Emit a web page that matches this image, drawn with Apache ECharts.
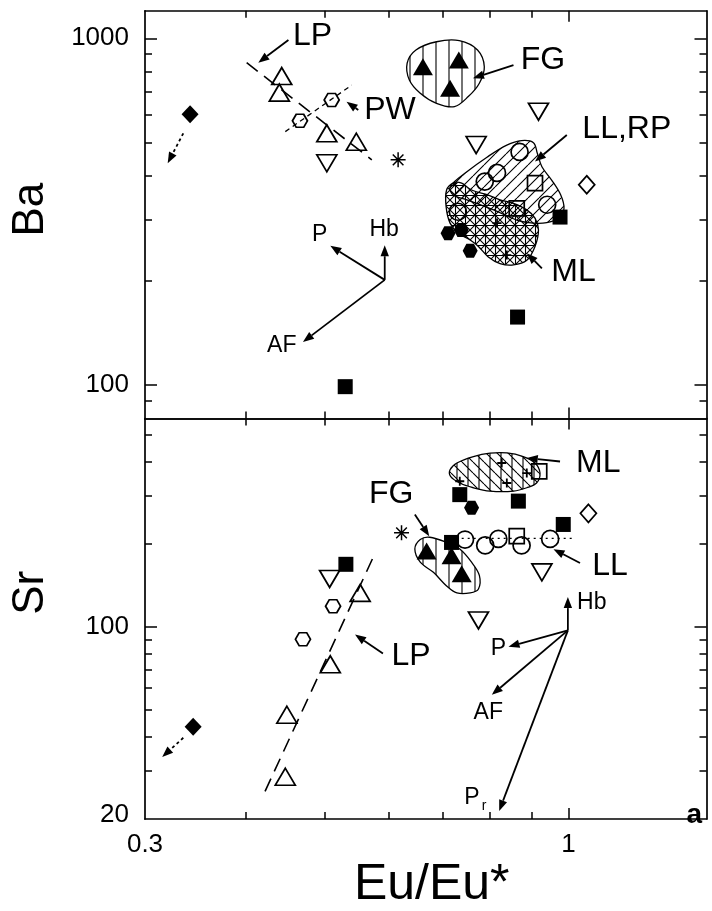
<!DOCTYPE html>
<html><head><meta charset="utf-8">
<script src="https://cdn.jsdelivr.net/npm/echarts@6/dist/echarts.min.js"></script>
<style>html,body{margin:0;padding:0;background:#fff}#c{width:712px;height:911px}</style>
</head><body><div id="c"></div>
<script>
// ---------- axis ticks / labels ----------
const xTickVals = [0.4,0.5,0.6,0.7,0.8,0.9];
const xMajorTickVals = [1];
const xLabelVals = [0.3,1];
const baTickVals = [90,200,300,400,500,600,700,800,900];
const baMajorTickVals = [100,1000];
const baLabelVals = [100,1000];
const srTickVals = [30,40,50,60,70,80,90,200,300,400,500];
const srMajorTickVals = [100];
const srLabelVals = [20,100];

// ---------- top panel (Ba vs Eu/Eu*) ----------
const openUpTriBa   = [[0.4425,778],[0.4395,697],[0.503,532],[0.547,503]];
const openDownTriBa = [[0.503,436],[0.918,614],[0.769,492]];
const filledTriBa   = [[0.661,828],[0.732,866],[0.714,718]];
const openHexBa     = [[0.510,664],[0.466,578]];
const openCircBa    = [[0.870,470],[0.816,409],[0.788,386],[0.941,331],[0.730,316]];
const openSqBa      = [[0.909,382],[0.863,323]];
const openDiamBa    = [[1.053,378]];
const filledDiamBa  = [[0.341,604]];
const filledSqBa    = [[0.976,305],[0.865,157],[0.530,98.9]];
const filledHexBa   = [[0.710,274],[0.756,244],[0.737,280]];
const asteriskBa    = [[0.616,446]];
const plusBa        = [[0.839,237],[0.816,293]];

const fgRegionBa   = [[0.632,847],[0.648,925],[0.687,977],[0.733,984],[0.772,925],[0.787,828],[0.776,742],[0.752,679],[0.723,635],[0.687,649],[0.656,694],[0.636,758]];
const llrpRegionBa = [[0.714,373],[0.749,412],[0.793,454],[0.839,492],[0.875,507],[0.905,500],[0.915,466],[0.927,426],[0.953,390],[0.978,353],[0.987,323],[0.974,303],[0.940,294],[0.905,293],[0.863,299],[0.808,320],[0.749,342],[0.721,353]];
const mlRegionBa   = [[0.707,365],[0.721,383],[0.738,382],[0.759,365],[0.796,353],[0.823,342],[0.855,334],[0.888,320],[0.909,303],[0.918,280],[0.909,251],[0.888,229],[0.855,222],[0.823,224],[0.796,234],[0.774,251],[0.756,262],[0.731,274],[0.714,293],[0.706,327]];

const lpTrendBa = [[0.4005,850],[0.5716,446]];
const pwTrendBa = [[0.447,538],[0.540,733]];

// arrows: [x1,y1,x2,y2]
const arrowsBa = [
  [0.451,989,0.414,850],   // LP
  [0.550,621,0.532,656],   // PW
  [0.855,837,0.762,767],   // FG
  [0.995,526,0.909,441],   // LL,RP
  [0.927,217,0.888,240],   // ML
  [0.593,201,0.593,253],   // Hb vector
  [0.593,201,0.508,252],   // P vector
  [0.593,201,0.470,133]    // AF vector
];
const dottedArrowsBa = [[0.3345,532,0.320,436]];

const bigLabelsBa   = [[0.483,1011,'LP'],[0.602,621,'PW'],[0.930,866,'FG'],[1.18,545,'LL,RP'],[1.014,212,'ML']];
const smallLabelsBa = [[0.493,271,'P'],[0.592,280,'Hb'],[0.4425,130,'AF']];

// ---------- bottom panel (Sr vs Eu/Eu*) ----------
const openUpTriSr   = [[0.553,133],[0.508,73.1],[0.449,47.9],[0.447,28.5]];
const openDownTriSr = [[0.507,149.5],[0.927,158],[0.774,105.6]];
const filledTriSr   = [[0.668,189],[0.717,181.5],[0.738,156]];
const openHexSr     = [[0.512,119],[0.470,90.2]];
const openCircSr    = [[0.745,208],[0.789,198],[0.819,209],[0.875,198],[0.949,209]];
const openSqSr      = [[0.863,214],[0.920,368]];
const openDiamSr    = [[1.058,259]];
const filledDiamSr  = [[0.344,43.3]];
const filledSqSr    = [[0.531,169],[0.985,236],[0.867,287],[0.734,303],[0.717,203]];
const filledHexSr   = [[0.759,271.5]];
const asteriskSr    = [[0.622,220]];
const plusSr        = [[0.827,395],[0.888,363],[0.734,339],[0.839,334]];

const fgRegionSr = [[0.646,192],[0.656,208],[0.674,212],[0.707,203],[0.734,192],[0.759,172],[0.776,154],[0.774,137.5],[0.756,133],[0.728,133],[0.707,141],[0.681,158],[0.656,172]];
const mlRegionSr = [[0.714,373],[0.728,395],[0.763,417],[0.800,429],[0.839,430],[0.879,417],[0.909,395],[0.922,363],[0.913,334],[0.888,321],[0.855,312],[0.800,312],[0.763,321],[0.734,334],[0.715,353]];

const lpTrendSr = [[0.422,25.2],[0.573,177.6]];
const llTrendSr = [[0.738,210],[1.009,210]];

const arrowsSr = [
  [0.646,256.8,0.673,214],  // FG
  [1.033,170.8,0.958,191.9],// LL
  [0.976,400,0.888,412],    // ML
  [0.590,80.1,0.545,93.8],  // LP
  [0.998,97.2,0.998,128.4], // Hb vector
  [0.998,97.2,0.843,84.7],  // P vector
  [0.998,97.2,0.804,56.6],  // AF vector
  [0.998,97.2,0.821,21.4]   // Pr vector
];
const dottedArrowsSr = [[0.3345,39.5,0.315,33.6]];

const bigLabelsSr   = [[0.604,303,'FG'],[1.125,166,'LL'],[1.088,393,'ML'],[0.639,78.4,'LP']];
const smallLabelsSr = [[1.068,123,'Hb'],[0.819,83.5,'P'],[0.796,48.6,'AF'],[0.760,24.0,'P_r']];
const panelTagSr    = [[1.43,20.7,'a']];

// ---------- styling ----------
const FONT = '"Liberation Sans", Arial, Helvetica, sans-serif';
const HEX = 'path://M5,0 L15,0 L20,8.66 L15,17.32 L5,17.32 L0,8.66 Z';
const AST = 'path://M9,0 L11,0 L11,20 L9,20 Z M0,9 L20,9 L20,11 L0,11 Z M2.2,3.6 L3.6,2.2 L17.8,16.4 L16.4,17.8 Z M16.4,2.2 L17.8,3.6 L3.6,17.8 L2.2,16.4 Z';
const PLUS = 'path://M8,0 L12,0 L12,8 L20,8 L20,12 L12,12 L12,20 L8,20 L8,12 L0,12 L0,8 L8,8 Z';

function makePattern(size, draw) {
  const c = document.createElement('canvas');
  c.width = size; c.height = size;
  const g = c.getContext('2d');
  g.strokeStyle = '#000'; g.lineWidth = 1.1;
  g.beginPath(); draw(g, size); g.stroke();
  return { type: 'pattern', image: c, repeat: 'repeat' };
}
const vert = (g, s) => { g.moveTo(s/2+0.5, 0); g.lineTo(s/2+0.5, s); };
const horiz = (g, s) => { g.moveTo(0, s/2+0.5); g.lineTo(s, s/2+0.5); };
const slash = (g, s) => { for (const k of [-s,0,s]) { g.moveTo(k, s); g.lineTo(k+s, 0); } };
const bslash = (g, s) => { for (const k of [-s,0,s]) { g.moveTo(k, 0); g.lineTo(k+s, s); } };
const patFG = makePattern(13, vert);
const patLLRP = makePattern(11, slash);
const patMLtop = makePattern(10, (g,s)=>{ vert(g,s); horiz(g,s); slash(g,s); bslash(g,s); });
const patMLbot = makePattern(11, (g,s)=>{ vert(g,s); bslash(g,s); });

function scatter(data, xi, yi, symbol, size, filled, rotate) {
  return {
    type: 'scatter', xAxisIndex: xi, yAxisIndex: yi, data, symbol, symbolSize: size,
    symbolRotate: rotate || 0, silent: true, z: 5,
    itemStyle: filled ? { color: '#000', borderWidth: 0, opacity: 1 }
                      : { color: 'rgba(255,255,255,0)', borderColor: '#000', borderWidth: 1.7, opacity: 1 }
  };
}
function region(points, xi, yi, pattern) {
  return {
    type: 'custom', coordinateSystem: 'cartesian2d', xAxisIndex: xi, yAxisIndex: yi,
    silent: true, z: 1, data: points,
    renderItem: (params, api) => {
      if (params.dataIndex !== 0) return null;
      const pts = points.map(p => api.coord(p));
      return { type: 'polygon', shape: { points: pts, smooth: 0.35 },
               style: { fill: pattern, stroke: '#000', lineWidth: 1.3 } };
    }
  };
}
function trend(data, xi, yi, dash, width) {
  return { type: 'line', xAxisIndex: xi, yAxisIndex: yi, data, symbol: 'none', silent: true, z: 2,
           lineStyle: { color: '#000', width: width || 1.6, type: dash } };
}
function arrows(data, xi, yi, dashed) {
  return {
    type: 'custom', coordinateSystem: 'cartesian2d', xAxisIndex: xi, yAxisIndex: yi,
    silent: true, z: 3, data, encode: { x: [0,2], y: [1,3] },
    renderItem: (params, api) => {
      const p1 = api.coord([api.value(0), api.value(1)]);
      const p2 = api.coord([api.value(2), api.value(3)]);
      const a = Math.atan2(p2[1]-p1[1], p2[0]-p1[0]);
      const L = 11, W = 4.2;
      const bx = p2[0] - L*Math.cos(a), by = p2[1] - L*Math.sin(a);
      return { type: 'group', children: [
        { type: 'line', shape: { x1: p1[0], y1: p1[1], x2: bx, y2: by },
          style: { stroke: '#000', lineWidth: 1.8, lineDash: dashed ? [3,3] : null } },
        { type: 'polygon', shape: { points: [p2, [bx + W*Math.sin(a), by - W*Math.cos(a)], [bx - W*Math.sin(a), by + W*Math.cos(a)]] },
          style: { fill: '#000' } }
      ]};
    }
  };
}
function texts(arr, xi, yi, fontSize, bold) {
  return {
    type: 'custom', coordinateSystem: 'cartesian2d', xAxisIndex: xi, yAxisIndex: yi,
    silent: true, z: 6, data: arr.map(d => [d[0], d[1]]),
    renderItem: (params, api) => {
      const p = api.coord([api.value(0), api.value(1)]);
      const parts = arr[params.dataIndex][2].split('_');
      const st = { fontSize, fontFamily: FONT, fontWeight: bold ? 'bold' : 'normal', fill: '#000', align: 'center', verticalAlign: 'middle' };
      const children = [{ type: 'text', x: p[0], y: p[1], style: Object.assign({ text: parts[0] }, st) }];
      if (parts[1]) children.push({ type: 'text', x: p[0] + fontSize*0.42, y: p[1] + fontSize*0.4,
        style: Object.assign({}, st, { text: parts[1], fontSize: Math.round(fontSize*0.6), align: 'left' }) });
      return { type: 'group', children };
    }
  };
}

const axisLineStyle = { color: '#000', width: 1.7 };
const tickStyle = { color: '#000', width: 1.5 };
function xAxis(grid, pos, withLabels, name) {
  return {
    type: 'log', logBase: 10, gridIndex: grid, position: pos, min: 0.3, max: 1.48,
    axisLine: { show: true, onZero: false, lineStyle: axisLineStyle },
    axisTick: { show: true, inside: true, length: 7, customValues: xTickVals, lineStyle: tickStyle },
    axisLabel: { show: withLabels, customValues: xLabelVals, margin: 13, fontSize: 26, fontFamily: FONT, color: '#000',
                 formatter: v => String(v) },
    splitLine: { show: false },
    name: name || '', nameLocation: 'middle', nameGap: 41,
    nameTextStyle: { fontSize: 50, fontFamily: FONT, color: '#000', padding: [0,0,0,12] }
  };
}
function xMajor(grid, pos) {
  return {
    type: 'log', logBase: 10, gridIndex: grid, position: pos, min: 0.3, max: 1.48,
    axisLine: { show: false, onZero: false },
    axisTick: { show: true, inside: true, length: 11, customValues: xMajorTickVals, lineStyle: tickStyle },
    axisLabel: { show: false }, splitLine: { show: false }
  };
}
function yAxis(grid, pos, min, max, ticks, labels, withLabels, name, pad) {
  return {
    type: 'log', logBase: 10, gridIndex: grid, position: pos, min, max,
    axisLine: { show: true, onZero: false, lineStyle: axisLineStyle },
    axisTick: { show: true, inside: true, length: 7, customValues: ticks, lineStyle: tickStyle },
    axisLabel: { show: withLabels, customValues: labels, margin: 16, fontSize: 26, fontFamily: FONT, color: '#000',
                 formatter: v => (v === 20 ? '{up|20}' : String(v)),
                 rich: { up: { fontSize: 26, fontFamily: FONT, color: '#000', padding: [0,0,8,0] } } },
    splitLine: { show: false },
    name: name || '', nameLocation: 'middle', nameRotate: 90, nameGap: 92,
    nameTextStyle: { fontSize: 44, fontFamily: FONT, color: '#000', padding: pad || [0,0,0,0] }
  };
}
function yMajor(grid, pos, min, max, ticks) {
  return {
    type: 'log', logBase: 10, gridIndex: grid, position: pos, min, max,
    axisLine: { show: false, onZero: false },
    axisTick: { show: true, inside: true, length: 12, customValues: ticks, lineStyle: tickStyle },
    axisLabel: { show: false }, splitLine: { show: false }
  };
}

const option = {
  animation: false,
  backgroundColor: '#fff',
  grid: [
    { left: 145, top: 10.8, width: 561.5, height: 407.8 },
    { left: 145, top: 418.6, width: 561.5, height: 403.1 }
  ],
  xAxis: [
    xAxis(0, 'bottom', false),
    xAxis(0, 'top', false),
    xAxis(1, 'bottom', true, 'Eu/Eu*'),
    xAxis(1, 'top', false),
    xMajor(0, 'bottom'), xMajor(0, 'top'), xMajor(1, 'bottom'), xMajor(1, 'top')
  ],
  yAxis: [
    yAxis(0, 'left', 80, 1200, baTickVals, baLabelVals, true, 'Ba', [0,0,0,10]),
    yAxis(0, 'right', 80, 1200, baTickVals, baLabelVals, false),
    yAxis(1, 'left', 20, 573, srTickVals, srLabelVals, true, 'Sr', [0,0,0,52]),
    yAxis(1, 'right', 20, 573, srTickVals, srLabelVals, false),
    yMajor(0, 'left', 80, 1200, baMajorTickVals), yMajor(0, 'right', 80, 1200, baMajorTickVals),
    yMajor(1, 'left', 20, 573, srMajorTickVals), yMajor(1, 'right', 20, 573, srMajorTickVals)
  ],
  series: [
    // top
    region(fgRegionBa, 0, 0, patFG),
    region(llrpRegionBa, 0, 0, patLLRP),
    region(mlRegionBa, 0, 0, patMLtop),
    trend(lpTrendBa, 0, 0, [14,8], 1.6),
    trend(pwTrendBa, 0, 0, [5,4], 1.3),
    arrows(arrowsBa, 0, 0, false),
    arrows(dottedArrowsBa, 0, 0, true),
    scatter(openUpTriBa, 0, 0, 'triangle', [20,17], false),
    scatter(openDownTriBa, 0, 0, 'triangle', [20,17], false, 180),
    scatter(filledTriBa, 0, 0, 'triangle', [20,17], true),
    scatter(openHexBa, 0, 0, HEX, [15,13], false),
    scatter(openCircBa, 0, 0, 'circle', 17, false),
    scatter(openSqBa, 0, 0, 'rect', 15, false),
    scatter(openDiamBa, 0, 0, 'diamond', [16,18], false),
    scatter(filledDiamBa, 0, 0, 'diamond', [17,18], true),
    scatter(filledSqBa, 0, 0, 'rect', 15, true),
    scatter(filledHexBa, 0, 0, HEX, [15,14], true),
    scatter(asteriskBa, 0, 0, AST, 15, true),
    scatter(plusBa, 0, 0, PLUS, 9, true),
    texts(bigLabelsBa, 0, 0, 32, false),
    texts(smallLabelsBa, 0, 0, 23, false),
    // bottom
    region(fgRegionSr, 2, 2, patFG),
    region(mlRegionSr, 2, 2, patMLbot),
    trend(lpTrendSr, 2, 2, [14,8], 1.6),
    trend(llTrendSr, 2, 2, [2,4], 1.3),
    arrows(arrowsSr, 2, 2, false),
    arrows(dottedArrowsSr, 2, 2, true),
    scatter(openUpTriSr, 2, 2, 'triangle', [20,17], false),
    scatter(openDownTriSr, 2, 2, 'triangle', [20,17], false, 180),
    scatter(filledTriSr, 2, 2, 'triangle', [20,17], true),
    scatter(openHexSr, 2, 2, HEX, [15,13], false),
    scatter(openCircSr, 2, 2, 'circle', 17, false),
    scatter(openSqSr, 2, 2, 'rect', 15, false),
    scatter(openDiamSr, 2, 2, 'diamond', [16,18], false),
    scatter(filledDiamSr, 2, 2, 'diamond', [17,18], true),
    scatter(filledSqSr, 2, 2, 'rect', 15, true),
    scatter(filledHexSr, 2, 2, HEX, [15,14], true),
    scatter(asteriskSr, 2, 2, AST, 15, true),
    scatter(plusSr, 2, 2, PLUS, 9, true),
    texts(bigLabelsSr, 2, 2, 32, false),
    texts(smallLabelsSr, 2, 2, 23, false),
    texts(panelTagSr, 2, 2, 28, true)
  ]
};
const chart = echarts.init(document.getElementById('c'), null, { renderer: 'canvas' });
chart.setOption(option);
</script>
</body></html>
